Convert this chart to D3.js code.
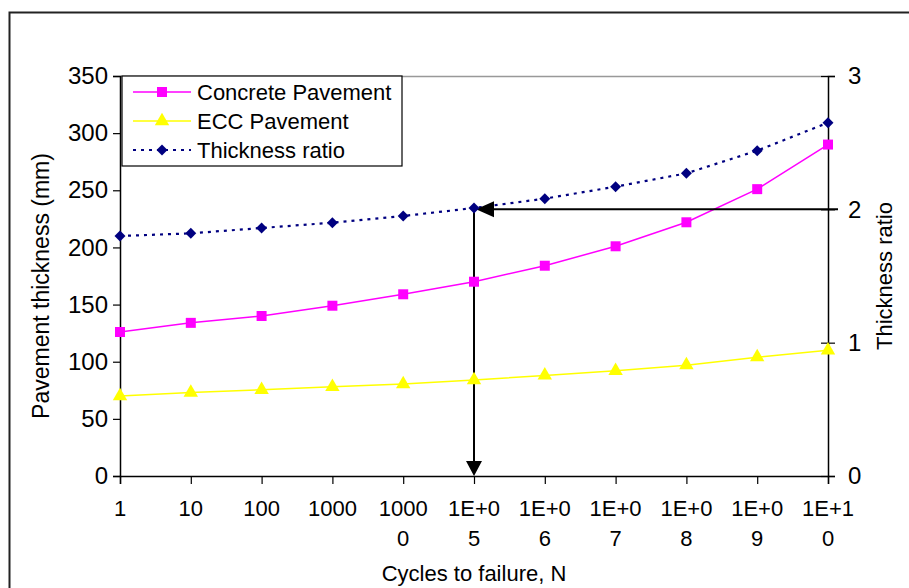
<!DOCTYPE html>
<html>
<head>
<meta charset="utf-8">
<script src="https://cdn.jsdelivr.net/npm/d3@7/dist/d3.min.js"></script>
<style>
  html, body { margin: 0; padding: 0; background: #fff; }
  svg { display: block; font-family: "Liberation Sans", Arial, sans-serif; }
</style>
</head>
<body>
<svg id="chart" width="909" height="588"></svg>
<script>
// Cycle counts (two-line tick labels as printed)
const categories = ["1", "10", "100", "1000", "10000", "1E+05", "1E+06", "1E+07", "1E+08", "1E+09", "1E+10"];
const tickLines = [["1"], ["10"], ["100"], ["1000"], ["1000", "0"], ["1E+0", "5"], ["1E+0", "6"], ["1E+0", "7"], ["1E+0", "8"], ["1E+0", "9"], ["1E+1", "0"]];

// Pavement thickness (mm)
const concrete = [126, 134, 140, 149, 159, 170, 184, 201, 222, 251, 290];
const ecc = [70, 73, 75.5, 78, 80.5, 84, 88, 92, 97, 104, 110];
// Thickness ratio (concrete / ECC)
const ratio = [1.80, 1.82, 1.86, 1.90, 1.95, 2.01, 2.08, 2.17, 2.27, 2.44, 2.65];

const leftTicks = [0, 50, 100, 150, 200, 250, 300, 350];
const rightTicks = [0, 1, 2, 3];

// Reading guide: ratio of 2 reached at 1E+05 cycles
const guideCategory = "1E+05";
const guideRatio = 2;

const svg = d3.select("#chart");
const L = 120, R = 828, T = 76, B = 476;

const x = d3.scalePoint().domain(categories).range([L, R]);
const yL = d3.scaleLinear().domain([0, 350]).range([B, T]);
const yR = d3.scaleLinear().domain([0, 3]).range([B, T]);

// Outer frame
svg.append("rect").attr("x", 9.5).attr("y", 12.5).attr("width", 1000).attr("height", 1000)
  .attr("fill", "none").attr("stroke", "#222").attr("stroke-width", 2);

// Plot area top edge
svg.append("line").attr("x1", L).attr("x2", R).attr("y1", T + 0.5).attr("y2", T + 0.5)
  .attr("stroke", "#999").attr("stroke-width", 1.5);

const fontSize = 22;
const yFontSize = 24;

// Left axis
const gL = svg.append("g").attr("transform", `translate(${L},0)`)
  .call(d3.axisLeft(yL).tickValues(leftTicks).tickSize(7).tickPadding(5));
// Right axis
const gR = svg.append("g").attr("transform", `translate(${R},0)`)
  .call(d3.axisRight(yR).tickValues(rightTicks).tickFormat(d3.format("d")).tickSize(7).tickPadding(13));
gR.selectAll(".tick line").attr("x1", -7);
// Bottom axis
const gB = svg.append("g").attr("transform", `translate(0,${B})`)
  .call(d3.axisBottom(x).tickSize(8).tickFormat(() => ""));

[gL, gR, gB].forEach(g => {
  g.select(".domain").attr("stroke", "#000").attr("stroke-width", 1.5);
  g.selectAll(".tick line").attr("stroke", "#000").attr("stroke-width", 1.2);
  g.selectAll(".tick text").attr("font-size", yFontSize).attr("fill", "#000")
    .attr("font-family", "Liberation Sans, Arial, sans-serif");
});

// Two-line category labels
categories.forEach((c, i) => {
  const t = svg.append("text").attr("text-anchor", "middle")
    .attr("font-size", fontSize).attr("fill", "#000");
  tickLines[i].forEach((s, k) => {
    t.append("tspan").attr("x", x(c)).attr("y", 516 + k * 30).text(s);
  });
});

// Axis titles
svg.append("text").attr("x", x(guideCategory)).attr("y", 581).attr("text-anchor", "middle")
  .attr("font-size", fontSize).text("Cycles to failure, N");
svg.append("text").attr("transform", `translate(49,286) rotate(-90)`)
  .attr("text-anchor", "middle").attr("font-size", 23).text("Pavement thickness (mm)");
svg.append("text").attr("transform", `translate(892,276) rotate(-90)`)
  .attr("text-anchor", "middle").attr("font-size", fontSize).text("Thickness ratio");

// Series
const series = [
  { name: "Concrete Pavement", values: concrete, y: yL, color: "#FF00FF", dash: null, width: 1.5, symbol: d3.symbolSquare, size: 100, rot: 0 },
  { name: "ECC Pavement", values: ecc, y: yL, color: "#FFFF00", dash: null, width: 1.5, symbol: d3.symbolTriangle, size: 90, rot: 0 },
  { name: "Thickness ratio", values: ratio, y: yR, color: "#000080", dash: "3,5", width: 2.2, symbol: d3.symbolSquare, size: 60, rot: 45 }
];

series.forEach(s => {
  const line = d3.line().x((d, i) => x(categories[i])).y(d => s.y(d));
  svg.append("path").datum(s.values).attr("d", line)
    .attr("fill", "none").attr("stroke", s.color).attr("stroke-width", s.width)
    .attr("stroke-dasharray", s.dash);
});

// Guide arrows
const gx = x(guideCategory);
const gi = categories.indexOf(guideCategory);
const gy = yR(guideRatio);
svg.append("line").attr("x1", gx).attr("x2", gx).attr("y1", yR(ratio[gi])).attr("y2", B - 12)
  .attr("stroke", "#000").attr("stroke-width", 2);
svg.append("path").attr("d", `M${gx},${B} L${gx - 8},${B - 15} L${gx + 8},${B - 15} Z`).attr("fill", "#000");
svg.append("line").attr("x1", R + 10).attr("x2", gx + 14).attr("y1", gy).attr("y2", gy)
  .attr("stroke", "#000").attr("stroke-width", 2);
svg.append("path").attr("d", `M${gx + 2},${gy} L${gx + 20},${gy - 8} L${gx + 20},${gy + 8} Z`).attr("fill", "#000");

// Markers
series.forEach(s => {
  svg.append("g").selectAll("path").data(s.values).join("path")
    .attr("transform", (d, i) => `translate(${x(categories[i])},${s.y(d)}) rotate(${s.rot})`)
    .attr("d", d3.symbol().type(s.symbol).size(s.size))
    .attr("fill", s.color);
});

// Legend
const lg = svg.append("g");
lg.append("rect").attr("x", 122).attr("y", 76).attr("width", 280).attr("height", 90)
  .attr("fill", "#fff").attr("stroke", "#000").attr("stroke-width", 1.2);
series.forEach((s, k) => {
  const yy = 92 + k * 29;
  lg.append("line").attr("x1", 133).attr("x2", 191).attr("y1", yy).attr("y2", yy)
    .attr("stroke", s.color).attr("stroke-width", s.width).attr("stroke-dasharray", s.dash);
  lg.append("path").attr("transform", `translate(162,${yy}) rotate(${s.rot})`)
    .attr("d", d3.symbol().type(s.symbol).size(s.size)).attr("fill", s.color);
  lg.append("text").attr("x", 197).attr("y", yy + 8).attr("font-size", fontSize).text(s.name);
});
</script>
</body>
</html>
